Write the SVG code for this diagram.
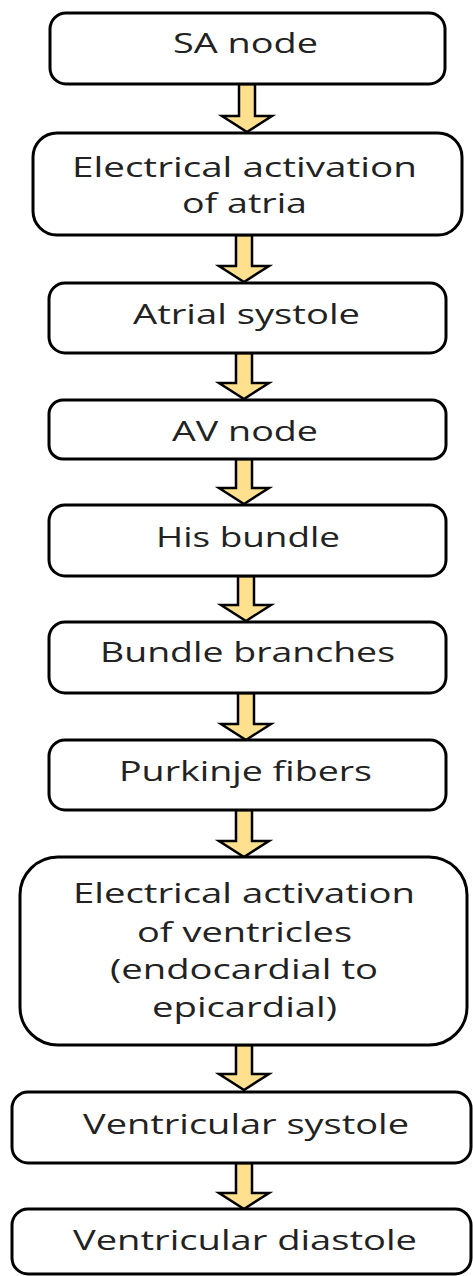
<svg xmlns="http://www.w3.org/2000/svg" width="473" height="1276" viewBox="0 0 473 1276">
<style>
.box{fill:#fff;stroke:#000;stroke-width:3}
.arr{fill:#FFE08F;stroke:#000;stroke-width:2.5;stroke-linejoin:miter}
text{font-family:"Open Sans","Liberation Sans",sans-serif;font-size:28px;fill:#222;text-anchor:middle}
</style>
<rect width="473" height="1276" fill="#fff"/>
<g id="connectors">
<path class="arr" d="M239,84 V116 H222 L247,132 L272,116 H255 V84 Z"/>
<path class="arr" d="M236,235 V266 H219 L244,282 L269,266 H252 V235 Z"/>
<path class="arr" d="M236,353 V383 H219 L244,399 L269,383 H252 V353 Z"/>
<path class="arr" d="M236,459 V488 H219 L244,504 L269,488 H252 V459 Z"/>
<path class="arr" d="M238,576 V605 H221 L246,621 L271,605 H254 V576 Z"/>
<path class="arr" d="M238,693 V724 H221 L246,740 L271,724 H254 V693 Z"/>
<path class="arr" d="M236,810 V841 H219 L244,857 L269,841 H252 V810 Z"/>
<path class="arr" d="M236,1045 V1074 H219 L244,1090 L269,1074 H252 V1045 Z"/>
<path class="arr" d="M236,1163 V1193 H219 L244,1209 L269,1193 H252 V1163 Z"/>
</g>
<g id="n1"><rect class="box" x="50" y="13" width="395" height="71" rx="16"/><text x="245.5" y="53" textLength="145" lengthAdjust="spacingAndGlyphs">SA node</text></g>
<g id="n2"><rect class="box" x="33" y="133" width="429" height="102" rx="24"/><text x="244.5" y="177" textLength="345" lengthAdjust="spacingAndGlyphs">Electrical activation</text><text x="244.5" y="213" textLength="125" lengthAdjust="spacingAndGlyphs">of atria</text></g>
<g id="n3"><rect class="box" x="49" y="283" width="397" height="70" rx="16"/><text x="246.5" y="324" textLength="227" lengthAdjust="spacingAndGlyphs">Atrial systole</text></g>
<g id="n4"><rect class="box" x="49" y="400" width="397" height="59" rx="14"/><text x="245" y="441" textLength="146" lengthAdjust="spacingAndGlyphs">AV node</text></g>
<g id="n5"><rect class="box" x="49" y="505" width="397" height="71" rx="16"/><text x="248" y="547" textLength="184" lengthAdjust="spacingAndGlyphs">His bundle</text></g>
<g id="n6"><rect class="box" x="49" y="622" width="397" height="71" rx="16"/><text x="247.5" y="662" textLength="295" lengthAdjust="spacingAndGlyphs">Bundle branches</text></g>
<g id="n7"><rect class="box" x="49" y="740" width="397" height="70" rx="16"/><text x="245.5" y="781" textLength="253" lengthAdjust="spacingAndGlyphs">Purkinje fibers</text></g>
<g id="n8"><rect class="box" x="20" y="857" width="447" height="188" rx="38"/><text x="244" y="903" textLength="342" lengthAdjust="spacingAndGlyphs">Electrical activation</text><text x="244.5" y="942" textLength="215" lengthAdjust="spacingAndGlyphs">of ventricles</text><text x="244" y="979" textLength="268" lengthAdjust="spacingAndGlyphs">(endocardial to</text><text x="244.5" y="1017" textLength="185" lengthAdjust="spacingAndGlyphs">epicardial)</text></g>
<g id="n9"><rect class="box" x="12" y="1092" width="459" height="71" rx="16"/><text x="246" y="1134" textLength="326" lengthAdjust="spacingAndGlyphs">Ventricular systole</text></g>
<g id="n10"><rect class="box" x="12" y="1209" width="459" height="65" rx="16"/><text x="245" y="1250" textLength="344" lengthAdjust="spacingAndGlyphs">Ventricular diastole</text></g>
</svg>
